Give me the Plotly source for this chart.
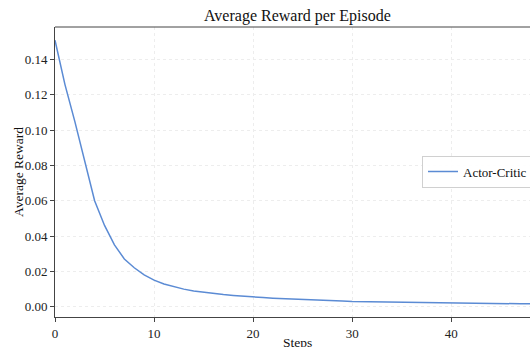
import plotly.graph_objects as go

steps = list(range(50))
avg_reward = [
    0.151, 0.126, 0.105, 0.082, 0.060, 0.046, 0.035, 0.027, 0.022, 0.018,
    0.0150, 0.0128, 0.0112, 0.0099, 0.0089, 0.0081, 0.0074, 0.0068, 0.0063, 0.0058,
    0.0054, 0.0051, 0.0048, 0.0045, 0.0043, 0.0041, 0.0039, 0.0036, 0.0033, 0.0031,
    0.0029, 0.0028, 0.0027, 0.0026, 0.0025, 0.0024, 0.0023, 0.0022, 0.0021, 0.0021,
    0.0020, 0.0019, 0.0019, 0.0018, 0.0018, 0.0017, 0.0017, 0.0016, 0.0016, 0.0015,
]
series_name = "Actor-Critic"
x_ticks = [0, 10, 20, 30, 40]
y_ticks = [0.00, 0.02, 0.04, 0.06, 0.08, 0.10, 0.12, 0.14]
y_tick_labels = [f"{v:.2f}" for v in y_ticks]

FONT = "Liberation Serif"
W, H = 530, 347
ML, MT, MB = 55, 27, 30

fig = go.Figure()
fig.add_trace(go.Scatter(
    x=steps, y=avg_reward, mode="lines", name=series_name,
    line=dict(color="#5b8bd4", width=1.5),
))

axis_common = dict(
    showline=True, linecolor="#444444", linewidth=1,
    ticks="outside", ticklen=4, tickwidth=1, tickcolor="#444444",
    showgrid=True, gridcolor="#ededed", gridwidth=1, griddash="dot",
    zeroline=False,
    tickfont=dict(family=FONT, size=13, color="#222222"),
)

fig.update_xaxes(range=[0, 47.95], tickvals=x_ticks, mirror=False, **axis_common)
fig.update_yaxes(range=[-0.0059, 0.1585], tickvals=y_ticks, ticktext=y_tick_labels,
                 mirror=False, **axis_common)

# top spine of the axes frame
fig.add_shape(type="line", xref="paper", yref="paper", x0=0, x1=1, y0=1, y1=1,
              line=dict(color="#444444", width=1), layer="above")

plot_w = W - ML
title_x = (297.6 - ML) / plot_w

fig.add_annotation(text="Average Reward per Episode", xref="paper", yref="paper",
                   x=title_x, y=1, xanchor="center", yanchor="bottom", yshift=0,
                   showarrow=False, font=dict(family=FONT, size=16, color="#111111"))
fig.add_annotation(text="Steps", xref="paper", yref="paper",
                   x=title_x, y=0, xanchor="center", yanchor="top", yshift=-16,
                   showarrow=False, font=dict(family=FONT, size=13.5, color="#111111"))
fig.add_annotation(text="Average Reward", xref="paper", yref="paper",
                   x=(18 - ML) / plot_w, y=0.5, xanchor="center", yanchor="middle",
                   textangle=-90, showarrow=False,
                   font=dict(family=FONT, size=13.5, color="#111111"))

fig.update_layout(
    width=W, height=H,
    margin=dict(l=ML, r=0, t=MT, b=MB, autoexpand=False),
    paper_bgcolor="white", plot_bgcolor="white",
    showlegend=True,
    legend=dict(x=(422 - ML) / plot_w, y=(347 - MB - 171.5) / (H - MT - MB),
                xanchor="left", yanchor="middle",
                bgcolor="rgba(255,255,255,0.9)", bordercolor="#d0d0d0", borderwidth=1,
                font=dict(family=FONT, size=13, color="#111111")),
)

page_css = (
    "document.documentElement.style.margin='0';"
    "document.documentElement.style.overflow='hidden';"
    "document.body.style.margin='0';"
    "document.body.style.overflow='hidden';"
)
fig.write_html("out.html", post_script=page_css, config={"displayModeBar": False})
